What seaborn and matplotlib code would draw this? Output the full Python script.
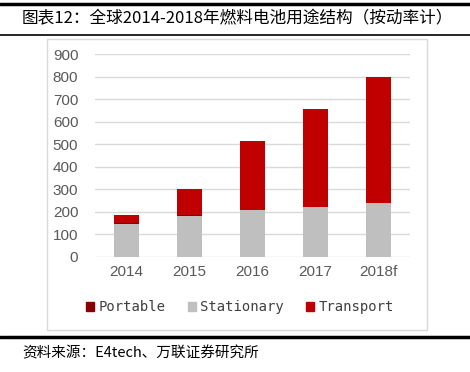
import matplotlib
matplotlib.use("Agg")
import matplotlib.pyplot as plt
import matplotlib.patches as mpatches
import matplotlib.lines as mlines
import seaborn as sns
import pandas as pd
import numpy as np

years = ["2014", "2015", "2016", "2017", "2018f"]
stationary = [148, 183, 207, 221, 238]
portable = [2, 2, 2, 2, 2]
transport = [35, 115, 306, 435, 560]

title = "图表12：全球2014-2018年燃料电池用途结构（按动率计）"
source = "资料来源：E4tech、万联证券研究所"

c_port = "#8B0000"
c_stat = "#BFBFBF"
c_tran = "#C00000"

sns.set_theme(style="white")
plt.rcParams["font.family"] = ["Noto Sans CJK SC", "DejaVu Sans"]

df = pd.DataFrame({"year": years, "stationary": stationary,
                   "portable": portable, "transport": transport})
df["lvl1"] = df["stationary"]
df["lvl2"] = df["stationary"] + df["portable"]
df["lvl3"] = df["lvl2"] + df["transport"]

fig = plt.figure(figsize=(4.7, 3.72), dpi=100)
ax = fig.add_axes([95 / 470, 1 - 257 / 372, 315 / 470, 203 / 372])

# stacked bars drawn back to front
sns.barplot(data=df, x="year", y="lvl3", color=c_tran, width=0.41, ax=ax,
            saturation=1, edgecolor="none")
sns.barplot(data=df, x="year", y="lvl2", color=c_port, width=0.41, ax=ax,
            saturation=1, edgecolor="none")
sns.barplot(data=df, x="year", y="lvl1", color=c_stat, width=0.41, ax=ax,
            saturation=1, edgecolor="none")

ax.set_ylim(0, 900)
ax.set_xlim(-0.5, 4.5)
ax.set_yticks(np.arange(0, 901, 100))
ax.yaxis.grid(True, color="#D9D9D9", linewidth=1)
ax.set_axisbelow(True)
for s in ax.spines.values():
    s.set_visible(False)
ax.set_xlabel("")
ax.set_ylabel("")
ax.tick_params(axis="both", length=0, labelsize=11, labelcolor="#595959")
ax.tick_params(axis="y", pad=12)
ax.tick_params(axis="x", pad=6)
for lab in ax.get_xticklabels() + ax.get_yticklabels():
    lab.set_family(["Liberation Sans", "DejaVu Sans"])

handles = [mpatches.Patch(color=c_port, label="Portable"),
           mpatches.Patch(color=c_stat, label="Stationary"),
           mpatches.Patch(color=c_tran, label="Transport")]
fig.legend(handles=handles, loc="center", bbox_to_anchor=(240 / 470, 1 - 307 / 372),
           ncol=3, frameon=False, handlelength=0.6, handleheight=0.6,
           handletextpad=0.3, columnspacing=1.6,
           prop={"family": ["DejaVu Sans Mono"], "size": 10},
           labelcolor="#404040")

# chart frame and report rules
fig.patches.append(mpatches.Rectangle((47 / 470, 1 - 330 / 372), 380 / 470, 291 / 372,
                                      transform=fig.transFigure, fill=False,
                                      edgecolor="#D9D9D9", linewidth=1))
fig.lines.append(mlines.Line2D([0, 1], [1 - 4 / 372] * 2, transform=fig.transFigure,
                               color="black", linewidth=2.5))
fig.lines.append(mlines.Line2D([0, 1], [1 - 35 / 372] * 2, transform=fig.transFigure,
                               color="black", linewidth=1.2))
fig.lines.append(mlines.Line2D([0, 1], [1 - 337 / 372] * 2, transform=fig.transFigure,
                               color="black", linewidth=2.5))

fig.text(22 / 470, 1 - 19 / 372, title, fontsize=12, color="black",
         va="center", ha="left")
fig.text(22 / 470, 1 - 353 / 372, source, fontsize=10.5, color="black",
         va="center", ha="left", style="italic")

fig.savefig("out.png", dpi=100)
